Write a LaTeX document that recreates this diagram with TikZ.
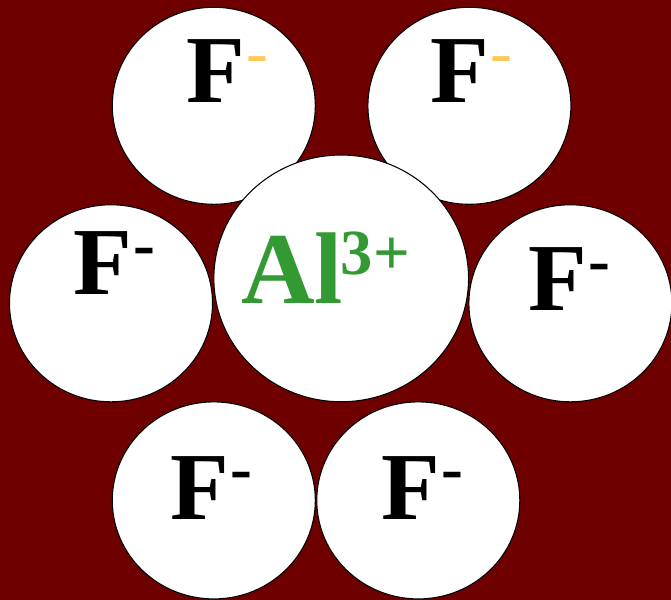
\documentclass[tikz,border=0pt]{standalone}
\usepackage{fontspec}
\setmainfont{Liberation Serif}
\definecolor{IonBack}{RGB}{110,0,0}
\definecolor{AlGreen}{RGB}{51,153,51}
\definecolor{ChargeGold}{RGB}{255,200,90}
\usetikzlibrary{shapes.geometric}

% F with a raised minus: #1 colour, #2 weight of the minus
\newcommand{\fion}[2]{\bfseries F\hspace{1pt}\raisebox{24.3pt}{\fontsize{56}{56}\selectfont#2\color{#1}-}}

\begin{document}
\begin{tikzpicture}[x=0.03cm,y=-0.03cm,
  ion/.style={ellipse,draw=black,line width=0.9pt,fill=white,inner sep=0pt,
    minimum width=6.09cm,minimum height=5.91cm},
  bigion/.style={ion,minimum width=7.64cm,minimum height=7.40cm},
  ionlabel/.style={anchor=base west,inner sep=0pt,font=\fontsize{82}{90}\selectfont}]
% background
\fill[IonBack] (0,0) rectangle (671,600);
\useasboundingbox (0,0) rectangle (671,600);
% upper fluorides
\node[ion] (ftl) at (213.8,105.8) {};
\node[ion] (ftr) at (469.4,105.8) {};
% aluminium
\node[bigion] (al) at (341.2,278.4) {};
% side fluorides
\node[ion] (fl) at (111,303.3) {};
\node[ion] (fr) at (570.4,303.3) {};
% lower fluorides
\node[ion] (fbl) at (213.8,500.4) {};
\node[ion] (fbr) at (418.3,500.4) {};
% labels
\node[ionlabel] (ftl-text) at (186,103) {\fion{ChargeGold}{\mdseries}};
\node[ionlabel] (ftr-text) at (430,103) {\fion{ChargeGold}{\mdseries}};
\node[ionlabel] (fl-text) at (73,295) {\fion{black}{}};
\node[ionlabel] (fr-text) at (528,311) {\fion{black}{}};
\node[ionlabel] (fbl-text) at (170,519) {\fion{black}{}};
\node[ionlabel] (fbr-text) at (381,519) {\fion{black}{}};
\node[ionlabel,text=AlGreen,font=\fontsize{87}{90}\selectfont\bfseries] (al-text) at (241,304)
  {Al\hspace{-2pt}\raisebox{25pt}{\fontsize{55}{60}\selectfont 3+}};
\end{tikzpicture}
\end{document}
